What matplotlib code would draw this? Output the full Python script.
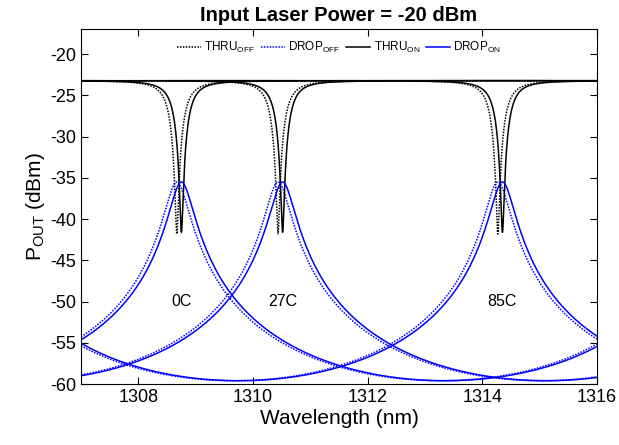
import numpy as np
import matplotlib
matplotlib.use("Agg")
import matplotlib.pyplot as plt

plt.rcParams["font.family"] = ["Liberation Sans", "DejaVu Sans"]
plt.rcParams["mathtext.fontset"] = "custom"
plt.rcParams["mathtext.rm"] = "Liberation Sans"
plt.rcParams["axes.unicode_minus"] = False

# --- Ring resonance parameters (read per temperature) ---
temps         = ["0C", "27C", "85C"]
center_off_nm = [1308.67, 1310.435, 1314.27]
center_on_nm  = [1308.75, 1310.515, 1314.35]

thru_base_dbm = -23.2     # off-resonance through-port level
thru_min_off  = -41.8     # through-port notch floor, heater off
thru_min_on   = -41.6     # through-port notch floor, heater on
drop_peak_dbm = -35.5     # drop-port peak
drop_floor    = -59.6     # drop-port level half an FSR away
fsr_nm        = 9.2

label_y = -50.0


def db2lin(x):
    return 10 ** (np.asarray(x) / 10.0)


def lin2db(x):
    return 10 * np.log10(x)


# finesse coefficient set by the peak-to-floor ratio of the drop port
F = db2lin(drop_peak_dbm - drop_floor) - 1


def airy(lam, lc):
    return 1.0 / (1.0 + F * np.sin(np.pi * (lam - lc) / fsr_nm) ** 2)


def thru_curve(lam, lc, floor_dbm):
    depth = 1 - db2lin(floor_dbm - thru_base_dbm)
    return lin2db(db2lin(thru_base_dbm) * (1 - depth * airy(lam, lc)))


def drop_curve(lam, lc):
    return lin2db(db2lin(drop_peak_dbm) * airy(lam, lc))


lam = np.linspace(1307, 1316, 30001)

fig = plt.figure(figsize=(6.19, 4.45), dpi=100)
ax = fig.add_axes([0.131, 0.137, 0.8335, 0.797])

lw = 1.1
dots = (0, (1, 0.9))
for i, (c_off, c_on) in enumerate(zip(center_off_nm, center_on_nm)):
    first = i == 0
    ax.plot(lam, thru_curve(lam, c_off, thru_min_off), ls=dots, color="k", lw=lw,
            label=r"THRU$_\mathregular{OFF}$" if first else None)
    ax.plot(lam, drop_curve(lam, c_off), ls=dots, color="#0000ff", lw=lw,
            label=r"DROP$_\mathregular{OFF}$" if first else None)
    ax.plot(lam, thru_curve(lam, c_on, thru_min_on), "-", color="k", lw=lw,
            label=r"THRU$_\mathregular{ON}$" if first else None)
    ax.plot(lam, drop_curve(lam, c_on), "-", color="#0000ff", lw=lw,
            label=r"DROP$_\mathregular{ON}$" if first else None)
    ax.text(c_on, label_y, temps[i], ha="center", va="center", fontsize=11.5)

ax.set_xlim(1307, 1316)
ax.set_ylim(-60, -17)
ax.set_xticks(np.arange(1308, 1317, 2))
ax.set_yticks(np.arange(-60, -19, 5))
ax.tick_params(direction="in", top=True, right=True, labelsize=13,
               length=5, width=0.8)
for s in ax.spines.values():
    s.set_linewidth(0.8)

ax.set_xlabel("Wavelength (nm)", fontsize=15, labelpad=2)
ax.set_ylabel(r"P$_\mathregular{OUT}$ (dBm)", fontsize=15, labelpad=2)
ax.set_title("Input Laser Power = -20 dBm", fontsize=14.5, fontweight="bold", pad=6)

ax.legend(loc="upper center", ncol=4, frameon=False, fontsize=8.5,
          handlelength=2.0, handletextpad=0.3, columnspacing=0.5,
          borderaxespad=0.2, bbox_to_anchor=(0.5, 0.99))

fig.savefig("out.png", dpi=100)
